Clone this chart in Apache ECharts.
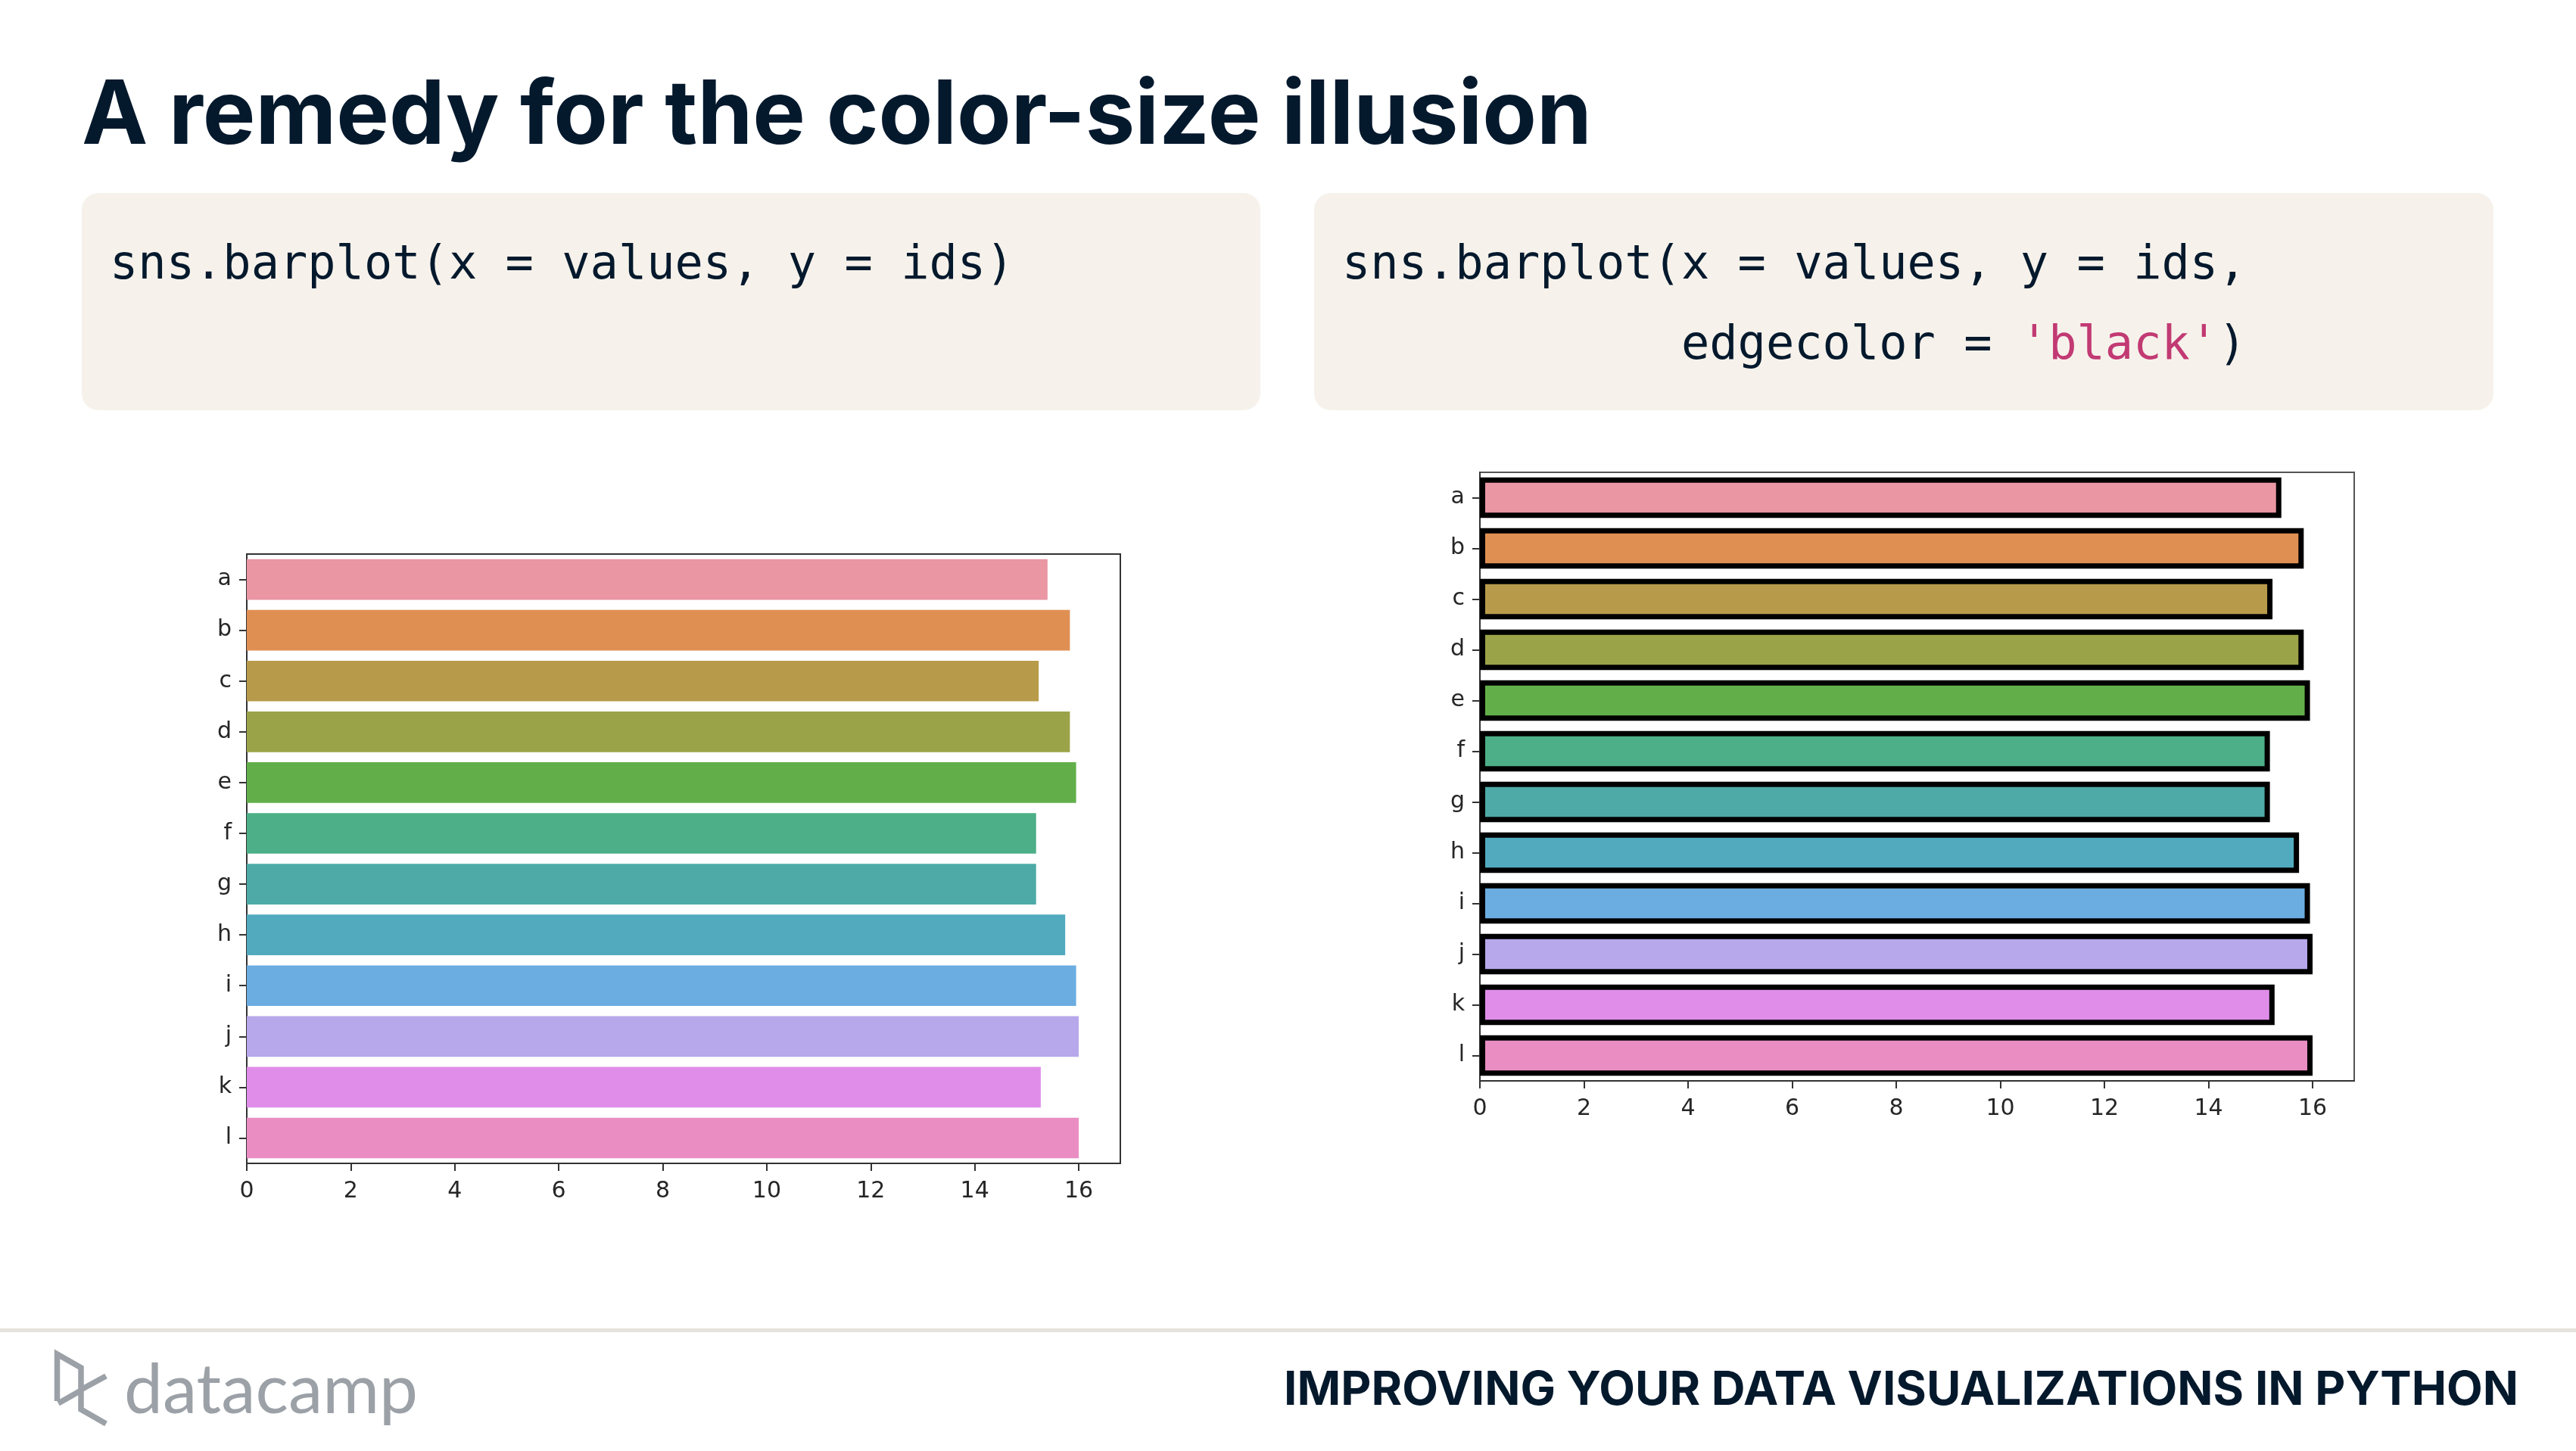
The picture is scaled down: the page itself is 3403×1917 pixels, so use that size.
<!DOCTYPE html>
<html>
<head>
<meta charset="utf-8">
<script src="https://cdn.jsdelivr.net/npm/echarts@6/dist/echarts.min.js"></script>
<style>
  html, body { margin: 0; padding: 0; background: #ffffff; }
  #chart { width: 3403px; height: 1917px; }
</style>
</head>
<body>
<div id="chart"></div>
<script>
// ---- data ----
const categories = ['a', 'b', 'c', 'd', 'e', 'f', 'g', 'h', 'i', 'j', 'k', 'l'];
const values = [15.40, 15.83, 15.23, 15.83, 15.95, 15.18, 15.18, 15.74, 15.95, 16.00, 15.27, 16.00];
const xTicks = [0, 2, 4, 6, 8, 10, 12, 14, 16];
const barColors = ['#EA96A3', '#E08F53', '#B89B4A', '#9BA348', '#62AF4A', '#4CAF88',
                   '#4DAAA6', '#51AABE', '#6CADE1', '#B7A7EB', '#E08DE9', '#E98DC3'];
const titleText = 'A remedy for the color-size illusion';
const codeLeft = 'sns.barplot(x = values, y = ids)';
const codeRight1 = 'sns.barplot(x = values, y = ids,';
const codeRight2a = 'edgecolor = ';
const codeRight2b = "'black'";
const codeRight2c = ')';
const footerText = 'IMPROVING YOUR DATA VISUALIZATIONS IN PYTHON';
const logoText = 'datacamp';

// ---- layout / style ----
const NAVY = '#05192D';
const AXIS = '#333333';
const LABEL = '#262626';
const MONO = '"DejaVu Sans Mono", monospace';
const codeSize = 62;
const charW = codeSize * 0.60205;
const mid = (baseline, size, k) => baseline - size * k;

function makeXAxis(gi) {
  return {
    type: 'value', gridIndex: gi, min: 0, max: 16.8, interval: 2,
    axisLine: { show: true, lineStyle: { color: AXIS, width: 2 } },
    axisTick: { show: true, length: 10, lineStyle: { color: AXIS, width: 2 }, customValues: xTicks },
    axisLabel: { fontSize: 30, fontFamily: 'DejaVu Sans', color: LABEL, margin: 22, customValues: xTicks },
    splitLine: { show: false }
  };
}
function makeYAxis(gi) {
  return {
    type: 'category', gridIndex: gi, data: categories, inverse: true,
    axisLine: { show: true, lineStyle: { color: AXIS, width: 2 } },
    axisTick: { show: true, length: 10, alignWithLabel: true, lineStyle: { color: AXIS, width: 2 } },
    axisLabel: { fontSize: 30, fontFamily: 'DejaVu Sans', color: LABEL, margin: 20 },
    splitLine: { show: false }
  };
}
const barData = values.map((v, i) => ({ value: v, itemStyle: { color: barColors[i] } }));

function logoLine(points) {
  return {
    type: 'polyline', silent: true,
    shape: { points: points },
    style: { stroke: '#9BA1A7', lineWidth: 7.5, fill: null, lineJoin: 'miter', lineCap: 'butt' }
  };
}

const option = {
  backgroundColor: '#ffffff',
  animation: false,
  grid: [
    { left: 326, top: 732, width: 1154, height: 805, show: true, borderColor: AXIS, borderWidth: 2, backgroundColor: 'transparent' },
    { left: 1955, top: 624, width: 1155, height: 804, show: true, borderColor: '#555555', borderWidth: 2, backgroundColor: 'transparent' }
  ],
  xAxis: [makeXAxis(0), makeXAxis(1)],
  yAxis: [makeYAxis(0), makeYAxis(1)],
  series: [
    { type: 'bar', xAxisIndex: 0, yAxisIndex: 0, data: barData, barCategoryGap: '20%' },
    { type: 'bar', xAxisIndex: 1, yAxisIndex: 1, data: barData, barCategoryGap: '20%',
      itemStyle: { borderColor: '#000000', borderWidth: 7 } }
  ],
  graphic: [
    { type: 'text', silent: true, x: 108, y: mid(197, 117, 0.36),
      style: { text: titleText, font: '700 117px Inter', fill: NAVY, verticalAlign: 'middle' } },
    { type: 'rect', silent: true, shape: { x: 108, y: 255, width: 1557, height: 287, r: 22 },
      style: { fill: '#F6F2EB' } },
    { type: 'rect', silent: true, shape: { x: 1736, y: 255, width: 1558, height: 287, r: 22 },
      style: { fill: '#F6F2EB' } },
    { type: 'text', silent: true, x: 145, y: mid(374, codeSize, 0.35),
      style: { text: codeLeft, font: codeSize + 'px ' + MONO, fill: NAVY, verticalAlign: 'middle' } },
    { type: 'text', silent: true, x: 1773, y: mid(374, codeSize, 0.35),
      style: { text: codeRight1, font: codeSize + 'px ' + MONO, fill: NAVY, verticalAlign: 'middle' } },
    { type: 'text', silent: true, x: 1773 + 12 * charW, y: mid(480, codeSize, 0.35),
      style: { text: codeRight2a, font: codeSize + 'px ' + MONO, fill: NAVY, verticalAlign: 'middle' } },
    { type: 'text', silent: true, x: 1773 + 24 * charW, y: mid(480, codeSize, 0.35),
      style: { text: codeRight2b, font: codeSize + 'px ' + MONO, fill: '#C23A73', verticalAlign: 'middle' } },
    { type: 'text', silent: true, x: 1773 + 31 * charW, y: mid(480, codeSize, 0.35),
      style: { text: codeRight2c, font: codeSize + 'px ' + MONO, fill: NAVY, verticalAlign: 'middle' } },
    { type: 'rect', silent: true, shape: { x: 0, y: 1755, width: 3403, height: 5 },
      style: { fill: '#E6E2DB' } },
    { type: 'text', silent: true, x: 3327, y: mid(1860, 62, 0.36),
      style: { text: footerText, font: '700 62px Inter', fill: NAVY, textAlign: 'right', verticalAlign: 'middle' } },
    { type: 'text', silent: true, x: 164, y: mid(1872, 91, 0.38),
      style: { text: logoText, font: '400 91px Lato', fill: '#9BA1A7', verticalAlign: 'middle' } },
    logoLine([[75.5, 1851], [75.5, 1789], [107, 1807], [107, 1862], [140, 1881]]),
    logoLine([[77, 1854], [107, 1837]]),
    logoLine([[107, 1836], [140, 1818]])
  ]
};

const chart = echarts.init(document.getElementById('chart'), null, { renderer: 'canvas', width: 3403, height: 1917 });
chart.setOption(option);
</script>
</body>
</html>
